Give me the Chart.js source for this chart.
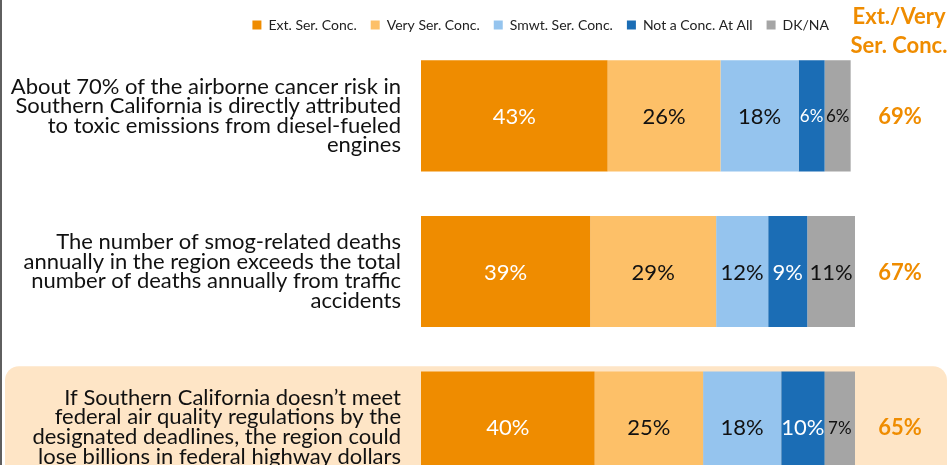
<!DOCTYPE html>
<html>
<head>
<meta charset="utf-8">
<script src="https://cdn.jsdelivr.net/npm/chart.js@4/dist/chart.umd.min.js"></script>
<style>
  html, body { margin: 0; padding: 0; background: #fff; overflow: hidden; }
  #wrap { position: relative; width: 950px; height: 505px; }
</style>
</head>
<body>
<div id="wrap"><canvas id="myChart" width="950" height="505"></canvas></div>
<script>
// statements shown on the left
var statements = [
    ['About 70% of the airborne cancer risk in', 'Southern California is directly attributed', 'to toxic emissions from diesel-fueled', 'engines'],
    ['The number of smog-related deaths', 'annually in the region exceeds the total', 'number of deaths annually from traffic', 'accidents'],
    ['If Southern California doesn\u2019t meet', 'federal air quality regulations by the', 'designated deadlines, the region could', 'lose billions in federal highway dollars']
];
var seriesNames = ['Ext. Ser. Conc.', 'Very Ser. Conc.', 'Smwt. Ser. Conc.', 'Not a Conc. At All', 'DK/NA'];
var extSer = [43, 39, 40];
var verySer = [26, 29, 25];
var smwtSer = [18, 12, 18];
var notConc = [6, 9, 10];
var dkna = [6, 11, 7];
var topTwo = [69, 67, 65];
var topTwoTitle = ['Ext./Very', 'Ser. Conc.'];

var colors = ['#EF8C00', '#FDC068', '#95C4EE', '#1B6DB5', '#A5A5A5'];
var labelColors = ['#ffffff', '#111111', '#111111', '#ffffff', '#111111'];
var orange = '#EF8C00';
var FONT = 'Lato, "Open Sans", sans-serif';

var frame = {
    id: 'frame',
    afterLayout: function (chart) {
        // legend sits a little left of the plot's right edge and a bit lower
        chart.legend.left -= 12;
        chart.legend.right -= 12;
        chart.legend.top += 4;
        chart.legend.bottom += 4;
    },
    beforeDraw: function (chart) {
        var ctx = chart.ctx;
        var y = chart.scales.y;
        var top = y.getPixelForValue(2) - 61;
        ctx.save();
        ctx.fillStyle = '#FEE5C6';
        ctx.beginPath();
        ctx.roundRect(5, top, 942, chart.height - top + 20, 14);
        ctx.fill();
        ctx.fillStyle = '#5f5f5f';
        ctx.fillRect(0, 0, 2, chart.height);
        ctx.restore();
    }
};

var valueLabels = {
    id: 'valueLabels',
    afterDatasetsDraw: function (chart) {
        var ctx = chart.ctx;
        ctx.save();
        ctx.textAlign = 'center';
        ctx.textBaseline = 'middle';
        chart.data.datasets.forEach(function (ds, di) {
            var meta = chart.getDatasetMeta(di);
            meta.data.forEach(function (bar, i) {
                var w = Math.abs(bar.x - bar.base);
                var size = w < 32 ? 17 : 22;
                ctx.font = size + 'px ' + FONT;
                ctx.fillStyle = labelColors[di];
                ctx.fillText(ds.data[i] + '%', (bar.x + bar.base) / 2, bar.y + 1);
            });
        });
        // top two box column
        var cx = 899;
        ctx.fillStyle = orange;
        ctx.font = 'bold 22px ' + FONT;
        ctx.fillText(topTwoTitle[0], cx, 17);
        ctx.fillText(topTwoTitle[1], cx, 46);
        topTwo.forEach(function (v, i) {
            ctx.fillText(v + '%', cx + 1, chart.scales.y.getPixelForValue(i) + 1);
        });
        ctx.restore();
    }
};

var datasets = [extSer, verySer, smwtSer, notConc, dkna].map(function (arr, i) {
    return {
        label: seriesNames[i],
        data: arr,
        backgroundColor: colors[i],
        borderWidth: 0,
        categoryPercentage: 1,
        barPercentage: 0.714
    };
});

var chart = new Chart(document.getElementById('myChart'), {
    type: 'bar',
    data: { labels: statements, datasets: datasets },
    options: {
        indexAxis: 'y',
        responsive: false,
        animation: false,
        devicePixelRatio: 1,
        layout: { padding: { top: 0, right: 95, bottom: 0, left: 0 } },
        scales: {
            x: { stacked: true, min: 0, max: 100, display: false },
            y: {
                stacked: true,
                grid: { display: false },
                border: { display: false },
                ticks: {
                    color: '#111',
                    padding: 12,
                    font: { family: FONT, size: 22, lineHeight: 0.89 }
                },
                afterFit: function (scale) {
                    scale.width = 421;
                    scale.paddingTop = 0;
                    scale.paddingBottom = 0;
                }
            }
        },
        plugins: {
            legend: {
                position: 'top',
                align: 'end',
                labels: {
                    boxWidth: 9,
                    boxHeight: 9,
                    padding: 14,
                    color: '#222',
                    font: { family: FONT, size: 14 }
                }
            },
            tooltip: { enabled: false }
        }
    },
    plugins: [frame, valueLabels]
});
</script>
</body>
</html>
